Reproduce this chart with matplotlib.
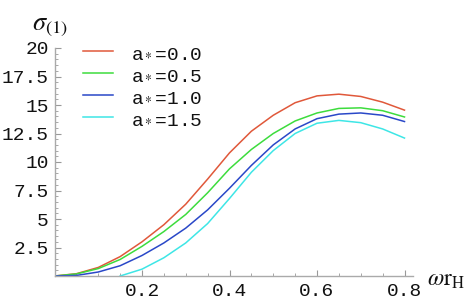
import matplotlib
matplotlib.use('Agg')
import matplotlib.pyplot as plt
from matplotlib.ticker import MultipleLocator

plt.rcParams['mathtext.fontset'] = 'stix'

# values
omega = [0.0, 0.05, 0.1, 0.15, 0.2, 0.25, 0.3, 0.35, 0.4, 0.45, 0.5, 0.55, 0.6, 0.65, 0.7, 0.75, 0.8]
sig_a00 = [0.0, 0.2, 0.75, 1.7, 3.0, 4.5, 6.3, 8.5, 10.8, 12.7, 14.1, 15.2, 15.8, 15.95, 15.75, 15.25, 14.55]
sig_a05 = [0.0, 0.18, 0.65, 1.45, 2.6, 3.9, 5.4, 7.3, 9.4, 11.1, 12.5, 13.6, 14.3, 14.7, 14.75, 14.5, 13.95]
sig_a10 = [0.0, 0.05, 0.35, 0.9, 1.8, 2.9, 4.2, 5.8, 7.7, 9.7, 11.5, 12.9, 13.8, 14.2, 14.3, 14.1, 13.55]
omega_15 = [0.15, 0.2, 0.25, 0.3, 0.35, 0.4, 0.45, 0.5, 0.55, 0.6, 0.65, 0.7, 0.75, 0.8]
sig_a15 = [0.0, 0.6, 1.6, 2.9, 4.6, 6.8, 9.1, 11.0, 12.5, 13.4, 13.65, 13.45, 12.9, 12.1]

labels = ['a$_*$=0.0', 'a$_*$=0.5', 'a$_*$=1.0', 'a$_*$=1.5']
colors = ['#e0583a', '#3ddc3d', '#2a48c8', '#3ee6e6']
yticks = [2.5, 5, 7.5, 10, 12.5, 15, 17.5, 20]
ytick_labels = ['2.5', '5', '7.5', '10', '12.5', '15', '17.5', '20']
xticks = [0.2, 0.4, 0.6, 0.8]

fig = plt.figure(figsize=(4.74, 3.01), dpi=100)
ax = fig.add_axes([54.5/474, 25/301, 358.75/474, 228/301])

xs = [omega, omega, omega, omega_15]
ys = [sig_a00, sig_a05, sig_a10, sig_a15]
for x, y, c, l in zip(xs, ys, colors, labels):
    ax.plot(x, y, color=c, lw=1.1, label=l)

ax.set_xlim(0, 0.82)
ax.set_ylim(0, 20)
ax.spines['top'].set_visible(False)
ax.spines['right'].set_visible(False)
for s in ['left', 'bottom']:
    ax.spines[s].set_color('#aaaaaa')
    ax.spines[s].set_linewidth(1.0)

ax.set_xticks(xticks)
ax.set_xticklabels([f'{t:.1f}' for t in xticks])
ax.xaxis.set_minor_locator(MultipleLocator(0.05))
ax.set_yticks(yticks)
ax.set_yticklabels(ytick_labels)
ax.yaxis.set_minor_locator(MultipleLocator(0.5))
ax.tick_params(which='both', direction='in', color='#999999')
ax.tick_params(which='major', length=4, width=0.8)
ax.tick_params(which='minor', length=2, width=0.6)
ax.tick_params(axis='x', pad=5)
ax.tick_params(axis='y', pad=4)
for lab in ax.get_xticklabels() + ax.get_yticklabels():
    lab.set_family('Liberation Mono')
    lab.set_fontsize(14)
    lab.set_color('#111111')

leg = ax.legend(loc='upper left', bbox_to_anchor=(0.079, 1.015), frameon=False,
                prop={'family': 'Liberation Mono', 'size': 14}, borderpad=0,
                borderaxespad=0, handlelength=1.55, handletextpad=0.95,
                labelspacing=0.22)
for t in leg.get_texts():
    t.set_color('#111111')

fig.text(32/474, 1 - 30/301, r'$\sigma_{(1)}$', fontsize=19, color='#111111')
fig.text(427/474, 1 - 286/301, r'$\omega\mathrm{r}_\mathrm{H}$', fontsize=17,
         color='#111111', va='baseline')

fig.savefig('out.png', dpi=100)
